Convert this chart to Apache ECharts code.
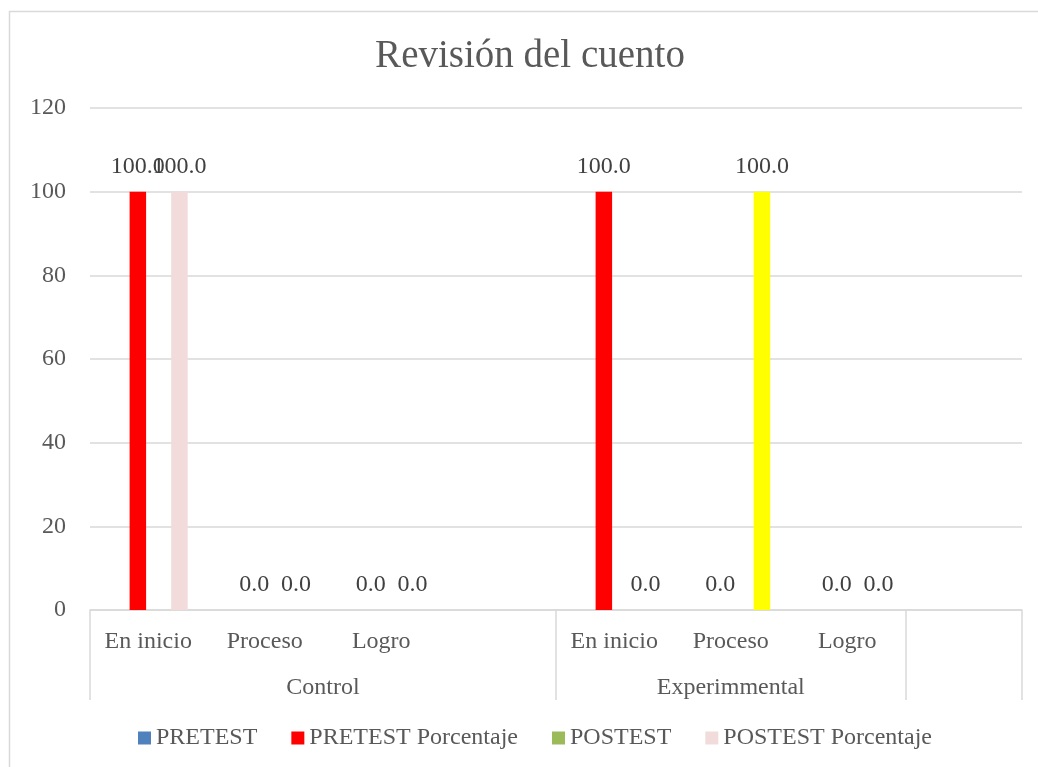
<!DOCTYPE html>
<html>
<head>
<meta charset="utf-8">
<script src="https://cdn.jsdelivr.net/npm/echarts@6/dist/echarts.min.js"></script>
<style>
html,body{margin:0;padding:0;background:#fff;}
#chart{width:1038px;height:767px;}
</style>
</head>
<body>
<div id="chart"></div>
<script>
// ---- data ----
const titleText = 'Revisión del cuento';
const categories = ['En inicio', 'Proceso', 'Logro', '', 'En inicio', 'Proceso', 'Logro', ''];
const groups = ['Control', 'Experimmental', ''];
const groupSizes = [4, 3, 1];
const seriesNames = ['PRETEST', 'PRETEST Porcentaje', 'POSTEST', 'POSTEST Porcentaje'];
const pretest = [null, null, null, null, null, null, null, null];
const pretestPct = [100, 0, 0, null, 100, 0, 0, null];
const postest = [null, null, null, null, null, null, null, null];
const postestPct = [100, 0, 0, null, 0, 100, 0, null];
const highlightIndex = 5; // Experimmental / Proceso POSTEST bar drawn in yellow
const yMin = 0, yMax = 120, yStep = 20;

// ---- styles ----
const FONT = 'Liberation Serif';
const TXT = '#595959';
const LINE = '#d9d9d9';
const colors = ['#4f81bd', '#ff0000', '#9bbb59', '#f2dcdb'];
const highlightColor = '#ffff00';

// group boundaries and centres on a 0..N value scale
const bounds = [0];
groupSizes.forEach(s => bounds.push(bounds[bounds.length - 1] + s));
const centres = [];
const centreNames = {};
groups.forEach((g, i) => {
  if (g) {
    const c = (bounds[i] + bounds[i + 1]) / 2;
    centres.push(c);
    centreNames[c] = g;
  }
});

const chart = echarts.init(document.getElementById('chart'));

const labelCfg = {
  show: true,
  position: 'top',
  distance: 13,
  fontFamily: FONT,
  fontSize: 24,
  color: '#404040',
  formatter: p => (p.value == null ? '' : Number(p.value).toFixed(1))
};

function makeSeries(name, data, idx) {
  return {
    name: name,
    type: 'bar',
    xAxisIndex: 0,
    yAxisIndex: 0,
    barWidth: 16.5,
    barGap: '26%',
    itemStyle: { color: colors[idx] },
    label: labelCfg,
    data: data
  };
}

const postData = postestPct.map((v, i) =>
  i === highlightIndex ? { value: v, itemStyle: { color: highlightColor } } : v);

const option = {
  animation: false,
  backgroundColor: '#ffffff',
  textStyle: { fontFamily: FONT },
  title: {
    text: titleText,
    left: 530,
    top: 37,
    padding: 0,
    textAlign: 'center',
    textStyle: { fontFamily: FONT, fontSize: 39, fontWeight: 'normal', color: TXT }
  },
  graphic: [{
    type: 'rect',
    shape: { x: 9.5, y: 11.5, width: 1100, height: 800 },
    style: { fill: null, stroke: LINE, lineWidth: 1.5 },
    silent: true,
    z: -10
  }],
  legend: {
    left: 133,
    top: 721,
    itemWidth: 13,
    itemHeight: 13,
    itemGap: 34,
    icon: 'rect',
    textStyle: { fontFamily: FONT, fontSize: 24, color: TXT },
    data: seriesNames
  },
  grid: { left: 90, right: 16, top: 108, bottom: 157, containLabel: false },
  xAxis: [{
    type: 'category',
    data: categories,
    position: 'bottom',
    axisLine: { show: true, lineStyle: { color: LINE, width: 1.5 } },
    axisTick: { show: false },
    axisLabel: { interval: 0, margin: 20, fontFamily: FONT, fontSize: 24, color: TXT },
    splitLine: { show: false }
  }, {
    type: 'value',
    min: 0,
    max: bounds[bounds.length - 1],
    position: 'bottom',
    axisLine: { show: false },
    splitLine: { show: false },
    axisTick: {
      show: true,
      inside: false,
      length: 90,
      customValues: bounds,
      lineStyle: { color: LINE, width: 1.5 }
    },
    axisLabel: {
      show: true,
      margin: 66,
      customValues: centres,
      fontFamily: FONT,
      fontSize: 24,
      color: TXT,
      formatter: v => centreNames[v] || ''
    }
  }],
  yAxis: {
    type: 'value',
    min: yMin,
    max: yMax,
    interval: yStep,
    axisLine: { show: false },
    axisTick: { show: false },
    axisLabel: { margin: 24, fontFamily: FONT, fontSize: 24, color: TXT },
    splitLine: { lineStyle: { color: LINE, width: 1.5 } }
  },
  series: [
    makeSeries(seriesNames[0], pretest, 0),
    makeSeries(seriesNames[1], pretestPct, 1),
    makeSeries(seriesNames[2], postest, 2),
    makeSeries(seriesNames[3], postData, 3)
  ]
};

chart.setOption(option);
</script>
</body>
</html>
